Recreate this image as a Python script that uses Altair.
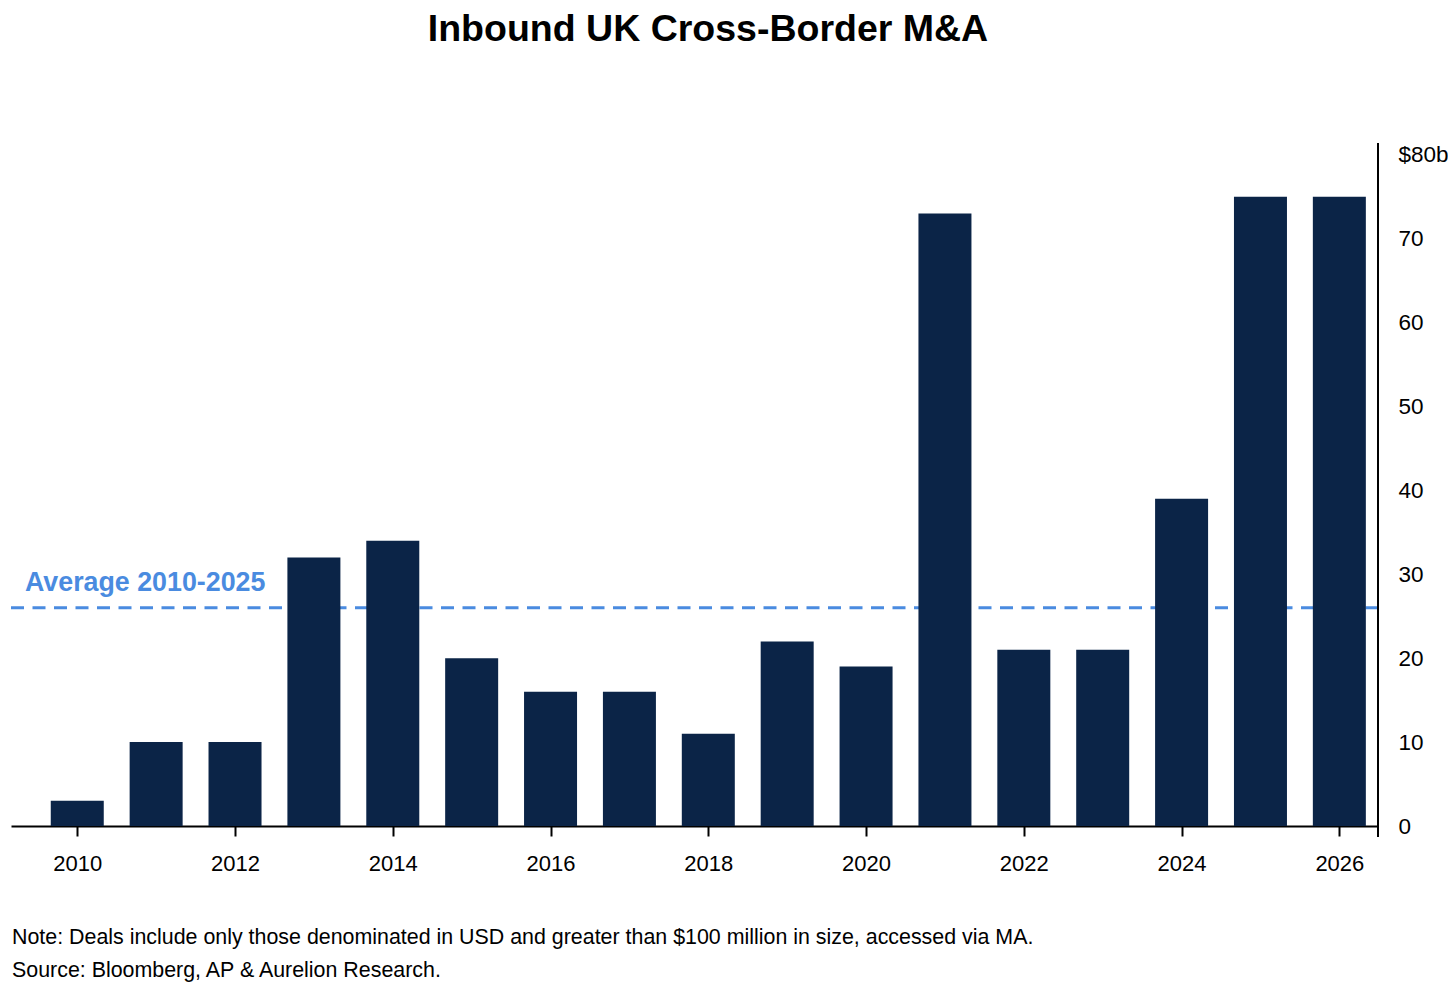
import altair as alt
import pandas as pd

years = list(range(2010, 2027))
values = [3, 10, 10, 32, 34, 20, 16, 16, 11, 22, 19, 73, 21, 21, 39, 75, 75]
average_value = 26
average_label = "Average 2010-2025"
title_text = "Inbound UK Cross-Border M&A"
note_lines = [
    "Note: Deals include only those denominated in USD and greater than $100 million in size, accessed via MA.",
    "Source: Bloomberg, AP & Aurelion Research.",
]
x_ticks = list(range(2010, 2027, 2))
y_ticks = [0, 10, 20, 30, 40, 50, 60, 70, 80]

W, H = 1367, 683
FONT = "Liberation Sans"
BAR = "#0b2447"
BLUE = "#4a8be0"

df = pd.DataFrame({"year": years, "value": values})
avg_df = pd.DataFrame({"avg": [average_value], "label": [average_label]})

xscale = alt.Scale(domain=[2009.16, 2026.49], nice=False, zero=False, padding=0)
yscale = alt.Scale(domain=[0, 81.4], nice=False)

base = alt.Chart(df)

bars = base.mark_bar(width=53, color=BAR).encode(
    x=alt.X("year:Q", scale=xscale,
            axis=alt.Axis(values=x_ticks, format="d", title=None, grid=False,
                          domainColor="black", domainWidth=2,
                          tickColor="black", tickWidth=2, tickSize=10,
                          labelFontSize=22, labelColor="black", labelFont=FONT,
                          labelPadding=17)),
    y=alt.Y("value:Q", scale=yscale,
            axis=alt.Axis(orient="right", values=y_ticks, title=None, grid=False,
                          domain=False, ticks=False, labelPadding=20,
                          labelFontSize=22.5, labelColor="black", labelFont=FONT,
                          labelAlign="left", labelBaseline="middle",
                          labelExpr="datum.value == 80 ? '$80b' : datum.label")),
)

avg_rule = alt.Chart(avg_df).mark_rule(color=BLUE, strokeWidth=3, strokeDash=[13, 8.5]).encode(
    y=alt.Y("avg:Q", scale=yscale),
    x=alt.value(0),
    x2=alt.value(W),
)

avg_text = alt.Chart(avg_df).mark_text(
    color=BLUE, fontSize=26.8, fontWeight="bold", font=FONT,
    align="left", baseline="alphabetic", dy=-17,
).encode(
    y=alt.Y("avg:Q", scale=yscale),
    x=alt.value(14),
    text="label:N",
)

right_line = alt.Chart(avg_df).mark_rule(color="black", strokeWidth=2).encode(
    x=alt.value(W), y=alt.value(0), y2=alt.value(H + 11),
)

title_df = pd.DataFrame({"t": [title_text]})
title = alt.Chart(title_df).mark_text(
    fontSize=37.5, fontWeight="bold", font=FONT, color="black",
    align="center", baseline="alphabetic",
).encode(x=alt.value(697), y=alt.value(-102), text="t:N")

notes_df = pd.DataFrame({"t": note_lines, "y": [801, 834]})
notes = alt.Chart(notes_df).mark_text(
    fontSize=21.4, font=FONT, color="black", align="left", baseline="alphabetic",
).encode(x=alt.value(1), y=alt.Y("y:Q", scale=None), text="t:N")

chart = alt.layer(avg_rule, bars, avg_text, right_line, title, notes).properties(
    width=W, height=H,
    autosize=alt.AutoSizeParams(type="none"),
    padding={"left": 3, "top": 135, "right": 70, "bottom": 156},
).configure(font=FONT, view=alt.ViewConfig(stroke=None))

chart.save("out.html", embed_options={"renderer": "svg", "actions": False})
